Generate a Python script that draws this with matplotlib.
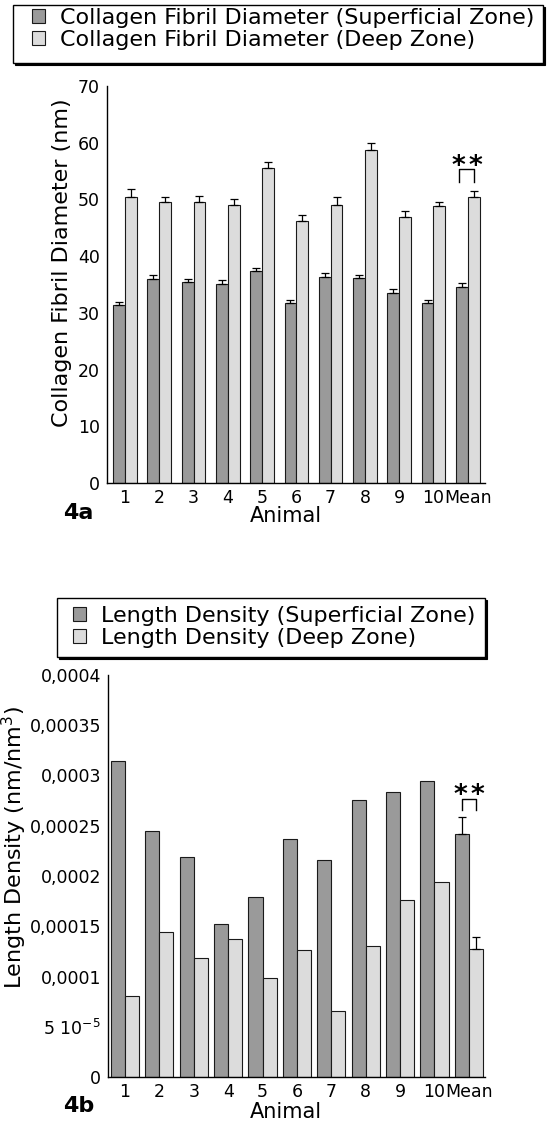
import matplotlib
matplotlib.use('Agg')
import matplotlib.pyplot as plt
from matplotlib.patches import Patch, Rectangle
import numpy as np

plt.rcParams['font.family'] = ['DejaVu Sans']

# ---------------- data ----------------
animals = ['1', '2', '3', '4', '5', '6', '7', '8', '9', '10', 'Mean']

diam_sup = [31.4, 35.9, 35.4, 35.1, 37.3, 31.8, 36.4, 36.1, 33.5, 31.8, 34.5]
diam_sup_err = [0.6, 0.8, 0.5, 0.65, 0.65, 0.5, 0.7, 0.6, 0.65, 0.5, 0.7]
diam_deep = [50.5, 49.6, 49.6, 49.1, 55.5, 46.2, 49.0, 58.8, 46.9, 48.8, 50.4]
diam_deep_err = [1.3, 0.76, 1.0, 1.05, 1.1, 1.0, 1.35, 1.17, 1.05, 0.8, 1.17]

ld_sup = [3.14e-4, 2.45e-4, 2.19e-4, 1.52e-4, 1.79e-4, 2.37e-4, 2.16e-4,
          2.76e-4, 2.84e-4, 2.95e-4, 2.42e-4]
ld_deep = [0.81e-4, 1.44e-4, 1.18e-4, 1.37e-4, 0.99e-4, 1.26e-4, 0.66e-4,
           1.30e-4, 1.76e-4, 1.94e-4, 1.27e-4]
ld_mean_sup_err = 0.17e-4
ld_mean_deep_err = 0.126e-4

diam_yticks = [0, 10, 20, 30, 40, 50, 60, 70]
ld_yticks = [0, 5e-5, 1e-4, 1.5e-4, 2e-4, 2.5e-4, 3e-4, 3.5e-4, 4e-4]
ld_yticklabels = ['0', '5 10$^{-5}$', '0,0001', '0,00015', '0,0002',
                  '0,00025', '0,0003', '0,00035', '0,0004']

legend_a = ['Collagen Fibril Diameter (Superficial Zone)',
            'Collagen Fibril Diameter (Deep Zone)']
legend_b = ['Length Density (Superficial Zone)',
            'Length Density (Deep Zone)']

# significance bracket (low, high) and star baseline level per panel
sig_a = (53.0, 55.4, 54.4)
sig_b = (2.66e-4, 2.77e-4, 2.73e-4)

# ---------------- style ----------------
C_SUP = '#9a9a9a'
C_DEEP = '#dcdcdc'
EDGE = '#1a1a1a'
W, H = 548, 1124

fig = plt.figure(figsize=(W / 100, H / 100), dpi=100)


def rect(l, r, t, b):
    return [l / W, 1 - b / H, (r - l) / W, (b - t) / H]


def style_axes(ax):
    for s in ['top', 'right']:
        ax.spines[s].set_visible(False)
    for s in ['left', 'bottom']:
        ax.spines[s].set_linewidth(1.0)
        ax.spines[s].set_color('black')
    ax.tick_params(axis='both', length=0, labelsize=12.5)
    ax.tick_params(axis='y', pad=5)
    ax.tick_params(axis='x', pad=4)


def legend_box(l, r, t, b):
    sh = Rectangle(((l + 2) / W, 1 - (b + 2) / H), (r - l) / W, (b - t) / H,
                   transform=fig.transFigure, facecolor='black',
                   edgecolor='black', lw=0.8, zorder=1)
    fr = Rectangle((l / W, 1 - b / H), (r - l) / W, (b - t) / H,
                   transform=fig.transFigure, facecolor='white',
                   edgecolor='black', lw=1.0, zorder=2)
    fig.add_artist(sh)
    fig.add_artist(fr)


def add_legend(labels, x, y):
    handles = [Patch(facecolor=C_SUP, edgecolor=EDGE, lw=0.8),
               Patch(facecolor=C_DEEP, edgecolor=EDGE, lw=0.8)]
    leg = fig.legend(handles, labels, loc='upper left',
                     bbox_to_anchor=(x / W, 1 - y / H), frameon=False,
                     borderpad=0, borderaxespad=0, handlelength=0.6,
                     handleheight=0.6, handletextpad=0.65, labelspacing=0.08,
                     fontsize=16)
    leg.set_zorder(3)


# ---------------- panel 4a ----------------
ax1 = fig.add_axes(rect(107, 485, 86, 483))
x = np.arange(len(animals))
bw = 0.345
ax1.bar(x - bw / 2, diam_sup, bw, color=C_SUP, edgecolor=EDGE, lw=0.8)
ax1.bar(x + bw / 2, diam_deep, bw, color=C_DEEP, edgecolor=EDGE, lw=0.8)
ax1.errorbar(x - bw / 2, diam_sup, yerr=[np.zeros(len(x)), diam_sup_err],
             fmt='none', ecolor='black', elinewidth=0.9, capsize=3, capthick=0.9)
ax1.errorbar(x + bw / 2, diam_deep, yerr=[np.zeros(len(x)), diam_deep_err],
             fmt='none', ecolor='black', elinewidth=0.9, capsize=3, capthick=0.9)
ax1.set_xlim(-0.525, 10.505)
ax1.set_ylim(0, 70)
ax1.set_yticks(diam_yticks)
ax1.set_xticks(x)
ax1.set_xticklabels(animals)
style_axes(ax1)
ax1.set_ylabel('Collagen Fibril Diameter (nm)', fontsize=16)
ax1.yaxis.set_label_coords(-0.092, 0.555)
ax1.set_xlabel('Animal', fontsize=15, va='top')
ax1.xaxis.set_label_coords(0.474, -0.058)
m = len(x) - 1
xl, xr = x[m] - bw / 2 - 0.08, x[m] + bw / 2
ax1.plot([xl, xl, xr, xr], [sig_a[0], sig_a[1], sig_a[1], sig_a[0]],
         color='black', lw=1.0)
ax1.text(xl - 0.02, sig_a[2], '*', ha='center', va='baseline', fontsize=19,
         fontweight='bold')
ax1.text(xr + 0.05, sig_a[2], '*', ha='center', va='baseline', fontsize=19,
         fontweight='bold')
fig.text(63 / W, 1 - 519 / H, '4a', fontsize=16, fontweight='bold',
         va='baseline', ha='left')

# ---------------- panel 4b ----------------
ax2 = fig.add_axes(rect(108, 485, 675, 1077))
bw2 = 0.41
ax2.bar(x - bw2 / 2, ld_sup, bw2, color=C_SUP, edgecolor=EDGE, lw=0.8)
ax2.bar(x + bw2 / 2, ld_deep, bw2, color=C_DEEP, edgecolor=EDGE, lw=0.8)
ax2.errorbar([x[m] - bw2 / 2], [ld_sup[m]], yerr=[[0], [ld_mean_sup_err]],
             fmt='none', ecolor='black', elinewidth=0.9, capsize=3, capthick=0.9)
ax2.errorbar([x[m] + bw2 / 2], [ld_deep[m]], yerr=[[0], [ld_mean_deep_err]],
             fmt='none', ecolor='black', elinewidth=0.9, capsize=3, capthick=0.9)
ax2.set_xlim(-0.494, 10.47)
ax2.set_ylim(0, 4e-4)
ax2.set_yticks(ld_yticks)
ax2.set_yticklabels(ld_yticklabels)
ax2.set_xticks(x)
ax2.set_xticklabels(animals)
style_axes(ax2)
ax2.set_ylabel('Length Density (nm/nm$^3$)', fontsize=16)
ax2.yaxis.set_label_coords(-0.21, 0.571)
ax2.set_xlabel('Animal', fontsize=15, va='top')
ax2.xaxis.set_label_coords(0.472, -0.062)
xl2, xr2 = x[m] - bw2 / 2, x[m] + bw2 / 2
ax2.plot([xl2, xl2, xr2, xr2], [sig_b[0], sig_b[1], sig_b[1], sig_b[0]],
         color='black', lw=1.0)
ax2.text(xl2 - 0.05, sig_b[2], '*', ha='center', va='baseline', fontsize=19,
         fontweight='bold')
ax2.text(xr2 + 0.05, sig_b[2], '*', ha='center', va='baseline', fontsize=19,
         fontweight='bold')
fig.text(63 / W, 1 - 1112 / H, '4b', fontsize=16, fontweight='bold',
         va='baseline', ha='left')

# ---------------- legends ----------------
legend_box(13, 543, 5, 63)
add_legend(legend_a, 32, 8)
legend_box(57, 485, 598, 657)
add_legend(legend_b, 73, 606)

fig.savefig('out.png', dpi=100)
